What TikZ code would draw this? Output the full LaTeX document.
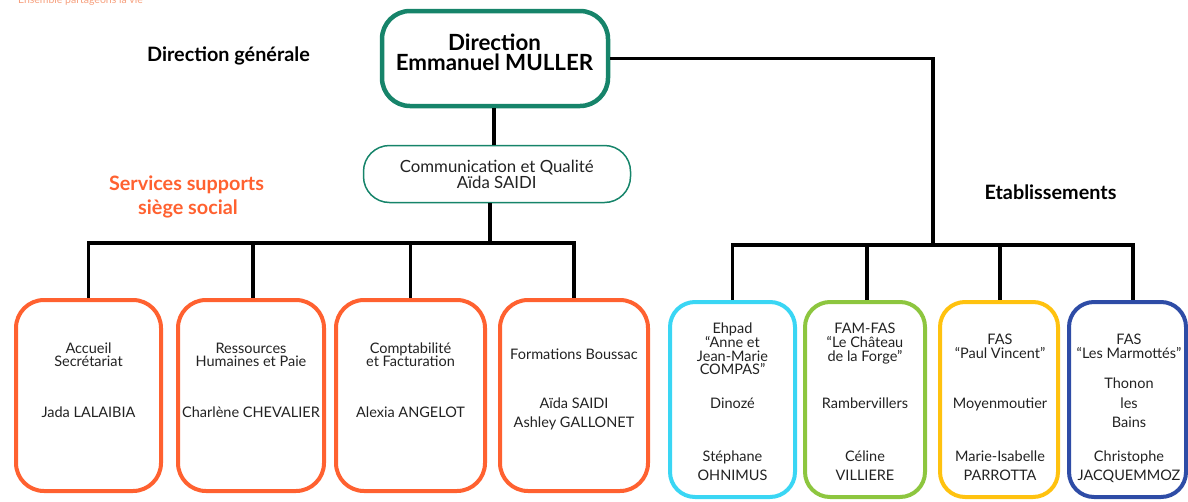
\documentclass[tikz,border=0pt]{standalone}
\usepackage{fontspec}
\setmainfont{Lato}
\definecolor{dirgreen}{HTML}{16846A}
\definecolor{orgorange}{HTML}{FF6130}
\definecolor{paleorange}{HTML}{F6A07E}
\definecolor{cyanbox}{HTML}{3AD6F4}
\definecolor{limebox}{HTML}{8DC63F}
\definecolor{yellowbox}{HTML}{FFC20F}
\definecolor{bluebox}{HTML}{2E4CA6}
\definecolor{txt}{HTML}{222222}
\begin{document}
\begin{tikzpicture}[x=1pt,y=-1pt,
  conn/.style={draw=black,line width=3.6pt},
  orgbox/.style={draw=orgorange,line width=4pt,rounded corners=28pt,minimum width=#1,minimum height=191pt,inner sep=0pt},
  etabbox/.style={line width=4pt,rounded corners=25pt,minimum height=195pt,inner sep=0pt},
  boxtext/.style={anchor=base,text=txt,font=\fontsize{14.5}{14}\selectfont,inner sep=0pt},
  head/.style={anchor=base,text=black,font=\fontsize{19.8}{19.8}\bfseries\selectfont,inner sep=0pt}]
\clip (0,0) rectangle (1188,501);
\useasboundingbox (0,0) rectangle (1188,501);

% top cut-off tagline
\node[anchor=base,text=paleorange,font=\fontsize{10.5}{10.5}\selectfont,inner sep=0pt] (tag) at (80.5,3.5) {Ensemble partageons la vie};

% Direction
\node[draw=dirgreen,line width=4.5pt,rounded corners=28pt,minimum width=226pt,minimum height=95pt,inner sep=0pt] (dir) at (495,58.5) {};
\node[anchor=base,font=\fontsize{22.3}{22}\bfseries\selectfont,inner sep=0pt] (dirt1) at (494.5,50) {Direction};
\node[anchor=base,font=\fontsize{22.3}{22}\bfseries\selectfont,inner sep=0pt] (dirt2) at (494.5,70.7) {Emmanuel MULLER};

% Communication
\node[draw=dirgreen,line width=1.5pt,rounded corners=26pt,minimum width=267pt,minimum height=57pt,inner sep=0pt] (comm) at (497,174) {};
\node[boxtext,font=\fontsize{16.8}{16}\selectfont] (commt1) at (496.7,172) {Communication et Qualité};
\node[boxtext,font=\fontsize{16.8}{16}\selectfont] (commt2) at (496.7,188.5) {Aïda SAIDI};

% headings
\node[head] (hdg) at (228.5,61.7) {Direction générale};
\node[head,text=orgorange] (hss1) at (186.5,190) {Services supports};
\node[head,text=orgorange] (hss2) at (188,214) {siège social};
\node[head] (heta) at (1050.5,199.3) {Etablissements};

% support boxes
\node[orgbox=145pt] (b1) at (88.5,395.5) {};
\node[orgbox=146pt] (b2) at (251,395.5) {};
\node[orgbox=149pt] (b3) at (410.5,395.5) {};
\node[orgbox=148pt] (b4) at (574,395.5) {};

\node[boxtext] (b1a) at (88.5,353) {Accueil};
\node[boxtext] (b1b) at (88.5,366) {Secrétariat};
\node[boxtext] (b1c) at (88.5,417) {Jada LALAIBIA};

\node[boxtext] (b2a) at (251,353) {Ressources};
\node[boxtext] (b2b) at (251,366) {Humaines et Paie};
\node[boxtext] (b2c) at (251,417) {Charlène CHEVALIER};

\node[boxtext] (b3a) at (410.5,353) {Comptabilité};
\node[boxtext] (b3b) at (410.5,366) {et Facturation};
\node[boxtext] (b3c) at (410.5,417) {Alexia ANGELOT};

\node[boxtext] (b4a) at (574,359) {Formations Boussac};
\node[boxtext] (b4b) at (574,408) {Aïda SAIDI};
\node[boxtext] (b4c) at (574,427) {Ashley GALLONET};

% establishment boxes
\node[etabbox,draw=cyanbox,minimum width=125pt] (b5) at (732.5,399.5) {};
\node[etabbox,draw=limebox,minimum width=120pt] (b6) at (865,399.5) {};
\node[etabbox,draw=yellowbox,minimum width=118pt] (b7) at (999,399.5) {};
\node[etabbox,draw=bluebox,minimum width=117pt] (b8) at (1127.5,399.5) {};

\node[boxtext] (b5a) at (732.5,333) {Ehpad};
\node[boxtext] (b5b) at (732.5,347) {“Anne et};
\node[boxtext] (b5c) at (732.5,361) {Jean-Marie};
\node[boxtext] (b5d) at (732.5,374.5) {COMPAS”};
\node[boxtext] (b5e) at (732.5,408) {Dinozé};
\node[boxtext] (b5f) at (732.5,461) {Stéphane};
\node[boxtext] (b5g) at (732.5,480) {OHNIMUS};

\node[boxtext] (b6a) at (865,333) {FAM-FAS};
\node[boxtext] (b6b) at (865,347) {“Le Château};
\node[boxtext] (b6c) at (865,361) {de la Forge”};
\node[boxtext] (b6e) at (865,408) {Rambervillers};
\node[boxtext] (b6f) at (865,461) {Céline};
\node[boxtext] (b6g) at (865,480) {VILLIERE};

\node[boxtext] (b7a) at (1000,344) {FAS};
\node[boxtext] (b7b) at (1000,358) {“Paul Vincent”};
\node[boxtext] (b7e) at (1000,408) {Moyenmoutier};
\node[boxtext] (b7f) at (1000,461) {Marie-Isabelle};
\node[boxtext] (b7g) at (1000,480) {PARROTTA};

\node[boxtext] (b8a) at (1129,344) {FAS};
\node[boxtext] (b8b) at (1129,358) {“Les Marmottés”};
\node[boxtext] (b8c) at (1129,388) {Thonon};
\node[boxtext] (b8d) at (1129,408) {les};
\node[boxtext] (b8e) at (1129,427.7) {Bains};
\node[boxtext] (b8f) at (1129,461) {Christophe};
\node[boxtext] (b8g) at (1129,480) {JACQUEMMOZ};

% junction coordinates
\coordinate (c1) at (494,0);
\coordinate (lb) at (490,243);
\coordinate (rj) at (933,245);
\coordinate (rx4) at (1133,0);
\coordinate (rx2) at (867,0);
\coordinate (rx3) at (1000,0);
\coordinate (lx2) at (253,0);

% connectors
\draw[conn] (dir.south -| c1) -- (comm.north -| c1);
\draw[conn] (comm.south -| lb) -- (lb);
\draw[conn] (b1.north) -- (b1.north |- lb) -- (b4.north |- lb) -- (b4.north);
\draw[conn] (lx2 |- lb) -- (lx2 |- b2.north);
\draw[conn] (b3.north |- lb) -- (b3.north);
\draw[conn] (dir.east) -| (rj);
\draw[conn] (b5.north) -- (b5.north |- rj) -- (rx4 |- rj) -- (rx4 |- b8.north);
\draw[conn] (rx2 |- rj) -- (rx2 |- b6.north);
\draw[conn] (rx3 |- rj) -- (rx3 |- b7.north);
\end{tikzpicture}
\end{document}
